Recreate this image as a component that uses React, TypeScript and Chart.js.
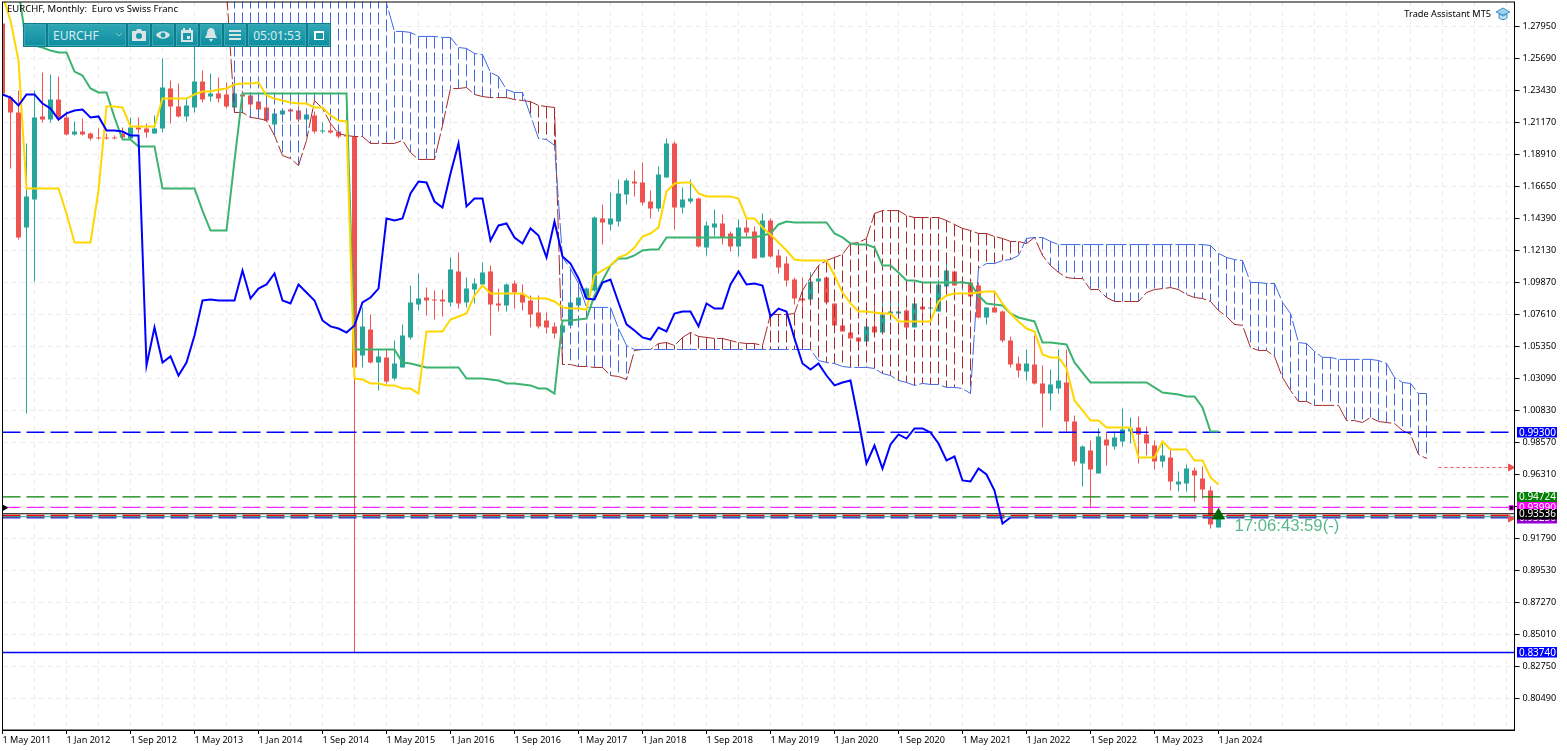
import React, { useEffect, useRef } from "react";
import { Chart, registerables } from "chart.js";

Chart.register(...registerables);

const dateLabels = ["1 May 2011","1 Jan 2012","1 Sep 2012","1 May 2013","1 Jan 2014","1 Sep 2014","1 May 2015","1 Jan 2016","1 Sep 2016","1 May 2017","1 Jan 2018","1 Sep 2018","1 May 2019","1 Jan 2020","1 Sep 2020","1 May 2021","1 Jan 2022","1 Sep 2022","1 May 2023","1 Jan 2024"];
const priceTicks = [1.2795,1.2569,1.2343,1.2117,1.1891,1.1665,1.1439,1.1213,1.0987,1.0761,1.0535,1.0309,1.0083,0.9857,0.9631,0.9405,0.9179,0.8953,0.8727,0.8501,0.8275,0.8049];

const opens = [
1.2817,1.2293,1.2188,1.1376,1.1573,1.2160,1.2138,1.2279,1.2153,1.2032,
1.2053,1.2039,1.2011,1.2011,1.2011,1.2039,1.2004,1.2082,1.2075,1.2039,
1.2075,1.2357,1.2230,1.2160,1.2223,1.2406,1.2300,1.2322,1.2315,1.2223,
1.2315,1.2308,1.2265,1.2223,1.2103,1.2174,1.2209,1.2202,1.2138,1.2167,
1.2053,1.2060,1.2053,1.2025,1.2018,1.0472,1.0655,1.0422,1.0457,1.0309,
1.0387,1.0599,1.0832,1.0881,1.0867,1.0867,1.0846,1.1065,1.0846,1.0937,
1.0973,1.1065,1.0839,1.0825,1.0980,1.0902,1.0860,1.0775,1.0719,1.0677,
1.0634,1.0684,1.0825,1.0881,1.0930,1.1439,1.1397,1.1418,1.1609,1.1700,
1.1693,1.1559,1.1510,1.1729,1.1969,1.1517,1.1559,1.1580,1.1234,1.1376,
1.1404,1.1333,1.1241,1.1376,1.1347,1.1164,1.1425,1.1178,1.1121,1.1008,
1.0874,1.0867,1.0994,1.1022,1.0839,1.0684,1.0634,1.0599,1.0570,1.0677,
1.0634,1.0768,1.0768,1.0789,1.0669,1.0818,1.0803,1.0782,1.0959,1.1065,
1.0987,1.0987,1.0966,1.0740,1.0811,1.0782,1.0577,1.0415,1.0358,1.0408,
1.0274,1.0203,1.0238,1.0281,1.0005,0.9709,0.9800,0.9638,0.9878,0.9829,
0.9864,0.9935,0.9963,0.9914,0.9836,0.9723,0.9751,0.9561,0.9568,0.9659,
0.9603,0.9518,0.9257];
const highs = [
1.2837,1.2308,1.2343,1.1969,1.2343,1.2470,1.2456,1.2442,1.2195,1.2124,
1.2145,1.2046,1.2075,1.2039,1.2025,1.2082,1.2153,1.2153,1.2110,1.2167,
1.2569,1.2413,1.2392,1.2293,1.2802,1.2484,1.2463,1.2435,1.2399,1.2420,
1.2343,1.2329,1.2293,1.2251,1.2202,1.2216,1.2216,1.2237,1.2202,1.2195,
1.2117,1.2110,1.2060,1.2032,1.2025,1.0811,1.0761,1.0514,1.0514,1.0577,
1.0691,1.0966,1.1051,1.0951,1.0930,1.0937,1.1163,1.1199,1.1022,1.1015,
1.1128,1.1107,1.0944,1.0980,1.1001,1.0973,1.0895,1.0895,1.0775,1.0705,
1.0719,1.1001,1.0951,1.0951,1.1453,1.1538,1.1623,1.1714,1.1721,1.1778,
1.1834,1.1637,1.1806,1.2004,1.1983,1.1658,1.1714,1.1587,1.1418,1.1502,
1.1467,1.1347,1.1432,1.1432,1.1383,1.1474,1.1439,1.1220,1.1171,1.1022,
1.1022,1.1058,1.1058,1.1022,1.0839,1.0719,1.0669,1.0599,1.0677,1.0832,
1.0881,1.0853,1.0860,1.0803,1.0839,1.0818,1.0818,1.1008,1.1142,1.1072,
1.1015,1.0987,1.0987,1.0811,1.0930,1.0789,1.0606,1.0465,1.0514,1.0613,
1.0401,1.0373,1.0514,1.0514,1.0048,0.9836,0.9871,0.9956,0.9928,0.9935,
1.0097,1.0034,1.0041,0.9970,0.9871,0.9850,0.9808,0.9652,0.9702,0.9681,
0.9688,0.9546,0.9377];
const lows = [
1.2308,1.1792,1.1290,1.0062,1.0994,1.2117,1.2117,1.2131,1.2025,1.2025,
1.2025,1.1990,1.1997,1.1997,1.1997,1.2004,1.1997,1.2039,1.2011,1.2039,
1.2046,1.2110,1.2153,1.2124,1.2188,1.2258,1.2265,1.2258,1.2216,1.2216,
1.2181,1.2181,1.2174,1.2124,1.2096,1.2117,1.2131,1.2117,1.2103,1.2039,
1.2039,1.2039,1.2004,1.2011,0.8374,1.0387,1.0415,1.0224,1.0274,1.0295,
1.0387,1.0584,1.0789,1.0754,1.0726,1.0747,1.0818,1.0803,1.0811,1.0839,
1.0966,1.0613,1.0782,1.0782,1.0803,1.0789,1.0669,1.0662,1.0627,1.0592,
1.0577,1.0669,1.0811,1.0881,1.0923,1.1255,1.1354,1.1383,1.1538,1.1595,
1.1531,1.1439,1.1488,1.1729,1.1361,1.1474,1.1545,1.1234,1.1178,1.1312,
1.1255,1.1206,1.1171,1.1312,1.1157,1.1164,1.1164,1.1051,1.0959,1.0832,
1.0818,1.0846,1.0937,1.0846,1.0684,1.0641,1.0592,1.0570,1.0570,1.0634,
1.0634,1.0719,1.0768,1.0662,1.0669,1.0733,1.0733,1.0782,1.0951,1.0966,
1.0930,1.0867,1.0733,1.0691,1.0775,1.0563,1.0387,1.0316,1.0295,1.0267,
0.9963,1.0083,1.0203,0.9935,0.9695,0.9546,0.9398,0.9638,0.9695,0.9808,
0.9829,0.9850,0.9709,0.9765,0.9666,0.9681,0.9518,0.9511,0.9511,0.9440,
0.9462,0.9250,0.9257];
const closes = [
1.2322,1.2188,1.1305,1.1595,1.2153,1.2138,1.2279,1.2145,1.2032,1.2053,
1.2032,1.2004,1.2004,1.2004,1.2004,1.2011,1.2082,1.2068,1.2046,1.2075,
1.2364,1.2230,1.2160,1.2237,1.2406,1.2279,1.2322,1.2286,1.2230,1.2322,
1.2300,1.2244,1.2209,1.2131,1.2181,1.2202,1.2195,1.2138,1.2174,1.2053,
1.2060,1.2046,1.2018,1.2018,1.0387,1.0677,1.0422,1.0465,1.0288,1.0415,
1.0613,1.0846,1.0874,1.0860,1.0860,1.0853,1.1079,1.0839,1.0944,1.0980,
1.1058,1.0832,1.0825,1.0973,1.0916,1.0846,1.0761,1.0677,1.0669,1.0627,
1.0684,1.0846,1.0881,1.0944,1.1446,1.1411,1.1439,1.1616,1.1707,1.1686,
1.1552,1.1510,1.1750,1.1969,1.1517,1.1573,1.1580,1.1241,1.1390,1.1404,
1.1305,1.1241,1.1376,1.1340,1.1157,1.1425,1.1171,1.1093,1.1001,1.0874,
1.0860,1.0994,1.1015,1.0846,1.0684,1.0641,1.0592,1.0570,1.0677,1.0634,
1.0761,1.0782,1.0782,1.0669,1.0839,1.0796,1.0811,1.0973,1.1072,1.0966,
1.0994,1.0888,1.0740,1.0811,1.0775,1.0577,1.0408,1.0365,1.0415,1.0274,
1.0203,1.0267,1.0295,1.0005,0.9723,0.9829,0.9666,0.9900,0.9836,0.9893,
0.9949,0.9956,0.9914,0.9850,0.9723,0.9765,0.9582,0.9582,0.9673,0.9624,
0.9525,0.9278,0.9335];

const tenkan = [
1.3014,1.2837,1.2555,1.1651,1.1651,1.1651,1.1651,1.1651,1.1474,1.1269,
1.1269,1.1269,1.1637,1.2230,1.2230,1.2223,1.2089,1.2089,1.2089,1.2089,
1.2286,1.2286,1.2286,1.2286,1.2315,1.2336,1.2336,1.2350,1.2357,1.2386,
1.2392,1.2392,1.2399,1.2308,1.2286,1.2272,1.2258,1.2251,1.2251,1.2223,
1.2223,1.2167,1.2131,1.2124,1.0309,1.0302,1.0274,1.0274,1.0260,1.0260,
1.0238,1.0238,1.0203,1.0641,1.0641,1.0641,1.0726,1.0747,1.0768,1.0895,
1.0966,1.0909,1.0909,1.0909,1.0909,1.0909,1.0874,1.0874,1.0874,1.0853,
1.0811,1.0803,1.0803,1.0796,1.1037,1.1072,1.1107,1.1163,1.1185,1.1234,
1.1312,1.1333,1.1376,1.1630,1.1686,1.1693,1.1693,1.1616,1.1595,1.1595,
1.1595,1.1595,1.1580,1.1439,1.1439,1.1376,1.1326,1.1269,1.1213,1.1149,
1.1142,1.1142,1.1142,1.1142,1.1037,1.0916,1.0839,1.0782,1.0782,1.0775,
1.0768,1.0768,1.0712,1.0712,1.0712,1.0712,1.0712,1.0853,1.0895,1.0909,
1.0909,1.0909,1.0916,1.0923,1.0923,1.0839,1.0768,1.0712,1.0662,1.0641,
1.0479,1.0458,1.0458,1.0380,1.0154,1.0083,1.0012,1.0012,0.9963,0.9963,
0.9963,0.9963,0.9751,0.9751,0.9751,0.9864,0.9808,0.9808,0.9808,0.9730,
0.9730,0.9610,0.9561];
const kijun = [
null,null,1.3050,1.2668,1.2661,1.2647,1.2625,1.2612,1.2612,1.2477,
1.2449,1.2357,1.2329,1.2329,1.2153,1.1997,1.1997,1.1948,1.1948,1.1948,
1.1651,1.1651,1.1651,1.1651,1.1651,1.1495,1.1354,1.1354,1.1354,1.1848,
1.2322,1.2322,1.2322,1.2322,1.2322,1.2322,1.2322,1.2322,1.2322,1.2322,
1.2322,1.2322,1.2322,1.2322,1.0514,1.0514,1.0514,1.0514,1.0514,1.0514,
1.0422,1.0415,1.0401,1.0387,1.0387,1.0387,1.0387,1.0387,1.0309,1.0309,
1.0309,1.0302,1.0295,1.0274,1.0274,1.0267,1.0260,1.0238,1.0238,1.0203,
1.0719,1.0719,1.0726,1.0733,1.0895,1.1001,1.1107,1.1157,1.1157,1.1178,
1.1213,1.1220,1.1220,1.1305,1.1305,1.1305,1.1305,1.1305,1.1305,1.1305,
1.1305,1.1305,1.1305,1.1305,1.1305,1.1319,1.1333,1.1397,1.1418,1.1411,
1.1411,1.1411,1.1411,1.1411,1.1333,1.1305,1.1262,1.1255,1.1255,1.1234,
1.1107,1.1107,1.1058,1.1001,1.1001,1.0987,1.0987,1.0987,1.0987,1.0987,
1.0987,1.0980,1.0895,1.0839,1.0832,1.0825,1.0768,1.0740,1.0726,1.0712,
1.0563,1.0563,1.0556,1.0549,1.0422,1.0351,1.0281,1.0281,1.0281,1.0281,
1.0281,1.0281,1.0281,1.0281,1.0246,1.0210,1.0203,1.0196,1.0182,1.0182,
1.0104,0.9935,0.9935];
const chikou = [
1.2315,1.2293,1.2237,1.2315,1.2315,1.2251,1.2216,1.2138,1.2181,1.2202,
1.2209,1.2153,1.2160,1.2060,1.2060,1.2053,1.2025,1.2025,1.0401,1.0669,
1.0422,1.0465,1.0330,1.0422,1.0613,1.0860,1.0867,1.0860,1.0860,1.0860,
1.1072,1.0874,1.0944,1.0973,1.1051,1.0860,1.0839,1.0973,1.0916,1.0860,
1.0719,1.0677,1.0662,1.0634,1.0684,1.0846,1.0881,1.0944,1.1439,1.1425,
1.1439,1.1616,1.1700,1.1693,1.1559,1.1517,1.1757,1.1969,1.1524,1.1580,
1.1580,1.1283,1.1390,1.1404,1.1305,1.1262,1.1369,1.1319,1.1164,1.1418,
1.1171,1.1121,1.1015,1.0874,1.0867,1.0987,1.1008,1.0846,1.0691,1.0648,
1.0599,1.0584,1.0669,1.0641,1.0768,1.0782,1.0782,1.0677,1.0839,1.0803,
1.0803,1.0973,1.1065,1.0973,1.0980,1.0966,1.0747,1.0803,1.0782,1.0592,
1.0415,1.0373,1.0415,1.0330,1.0260,1.0281,1.0295,1.0012,0.9709,0.9836,
0.9673,0.9843,0.9914,0.9885,0.9956,0.9956,0.9928,0.9850,0.9730,0.9758,
0.9589,0.9582,0.9673,0.9631,0.9518,0.9285,0.9327];

const cloudStart = 28;
const senkouA = [
1.3120,1.3120,1.3120,1.3120,1.3120,1.3120,1.3120,1.3120,1.3120,1.3120,
1.3120,1.3120,1.3120,1.3120,1.3120,1.3120,1.3120,1.3120,1.3120,1.3120,
1.2958,1.2760,1.2760,1.2753,1.2725,1.2725,1.2725,1.2718,1.2718,1.2647,
1.2640,1.2604,1.2597,1.2470,1.2442,1.2350,1.2329,1.2329,1.2167,1.2004,
1.1997,1.1955,1.1164,1.1086,1.0980,1.0811,1.0811,1.0811,1.0811,1.0662,
1.0542,1.0514,1.0514,1.0514,1.0514,1.0514,1.0514,1.0514,1.0514,1.0514,
1.0514,1.0514,1.0514,1.0514,1.0514,1.0514,1.0514,1.0514,1.0514,1.0514,
1.0514,1.0514,1.0514,1.0514,1.0436,1.0422,1.0415,1.0394,1.0387,1.0387,
1.0387,1.0380,1.0344,1.0330,1.0295,1.0281,1.0260,1.0274,1.0267,1.0267,
1.0246,1.0246,1.0238,1.0203,1.1086,1.1121,1.1121,1.1142,1.1149,1.1178,
1.1298,1.1305,1.1305,1.1277,1.1255,1.1255,1.1255,1.1255,1.1255,1.1255,
1.1255,1.1255,1.1255,1.1255,1.1255,1.1255,1.1255,1.1255,1.1255,1.1255,
1.1255,1.1255,1.1255,1.1248,1.1192,1.1164,1.1149,1.1142,1.0987,1.0987,
1.0980,1.0980,1.0846,1.0768,1.0563,1.0556,1.0500,1.0458,1.0458,1.0444,
1.0444,1.0444,1.0444,1.0444,1.0436,1.0415,1.0316,1.0281,1.0274,1.0203,1.0203];
const senkouB = [
1.3050,1.2188,1.2188,1.2153,1.2145,1.2131,1.2025,1.1884,1.1863,1.1813,
1.1990,1.2272,1.2216,1.2110,1.2039,1.2025,1.2018,1.2018,1.1969,1.1969,
1.1969,1.1969,1.1990,1.1905,1.1856,1.1856,1.1856,1.2096,1.2357,1.2357,
1.2364,1.2315,1.2300,1.2293,1.2293,1.2293,1.2279,1.2272,1.2265,1.2237,
1.2230,1.2223,1.0408,1.0408,1.0394,1.0394,1.0387,1.0387,1.0330,1.0323,
1.0302,1.0507,1.0514,1.0514,1.0556,1.0563,1.0542,1.0599,1.0634,1.0606,
1.0599,1.0592,1.0592,1.0577,1.0563,1.0556,1.0556,1.0542,1.0761,1.0761,
1.0761,1.0768,1.0930,1.1022,1.1107,1.1142,1.1164,1.1185,1.1262,1.1269,
1.1298,1.1474,1.1495,1.1495,1.1495,1.1460,1.1446,1.1446,1.1446,1.1446,
1.1425,1.1397,1.1369,1.1354,1.1333,1.1333,1.1312,1.1298,1.1277,1.1277,
1.1262,1.1305,1.1178,1.1107,1.1058,1.1022,1.1015,1.1015,1.0937,1.0937,
1.0881,1.0853,1.0853,1.0853,1.0853,1.0916,1.0937,1.0944,1.0951,1.0937,
1.0902,1.0881,1.0874,1.0853,1.0789,1.0747,1.0691,1.0684,1.0528,1.0507,
1.0507,1.0465,1.0316,1.0224,1.0147,1.0147,1.0119,1.0119,1.0119,1.0119,
1.0012,1.0012,0.9998,1.0034,1.0005,0.9998,0.9991,0.9942,0.9914,0.9772,0.9744];

const levelBlueDash = 0.993;
const levelGreen = 0.94724;
const levelMagenta = 0.9399;
const levelBlack = 0.93536;
const levelRed = 0.934;
const levelTeal = 0.9333;
const levelPurple = 0.9325;
const levelBlueSolid = 0.8374;
const forecastLevel = 0.9681;
const countdownAnchor = 0.9343;

const RED = "#EF5350";
const TEAL = "#26A69A";
const FONT = "'Noto Sans'";
const LAST = 189;

const pts = (vals: (number | null)[], start = 0) => vals.map((y, i) => ({ x: i + start, y }));
const level = (v: number) => [{ x: 0, y: v }, { x: LAST, y: v }];

function hatch(blue: boolean) {
  const out: any[] = [];
  senkouA.forEach((a, k) => {
    const b = senkouB[k];
    if ((a >= b) === blue) {
      const x = k + cloudStart;
      out.push({ x, y: Math.max(a, b) }, { x, y: Math.min(a, b) }, { x, y: null });
    }
  });
  return out;
}

const lineBase = { type: "line", pointRadius: 0, tension: 0, fill: false };

function box(ctx: any, y: any, value: number, text: string, color: string, h = 10.5) {
  const py = y.getPixelForValue(value);
  ctx.fillStyle = color;
  ctx.fillRect(1517, Math.round(py - h / 2), 40, h);
  ctx.fillStyle = "#fff";
  ctx.font = `10px ${FONT}`;
  ctx.textAlign = "left";
  ctx.textBaseline = "middle";
  ctx.fillText(text, 1519, py + 0.5);
}

const overlay = {
  id: "overlay",
  afterDraw(chart: any) {
    const { ctx, chartArea: a, scales } = chart;
    const y = scales.y;
    ctx.save();
    ctx.strokeStyle = "#000";
    ctx.lineWidth = 1;
    ctx.strokeRect(a.left, a.top, a.right - a.left, a.bottom - a.top);
    box(ctx, y, levelBlueDash, "0.99300", "#0000FF");
    box(ctx, y, levelPurple, "0.93250", "#9400D3");
    box(ctx, y, levelGreen, "0.94724", "#008000");
    box(ctx, y, levelMagenta, "0.93990", "#FF00FF");
    box(ctx, y, levelBlack, "0.93536", "#000000");
    box(ctx, y, levelBlueSolid, "0.83740", "#0000FF");
    ctx.fillStyle = "#000";
    ctx.font = `9.5px ${FONT}`;
    ctx.textAlign = "left";
    ctx.textBaseline = "middle";
    ctx.fillText("EURCHF, Monthly:  Euro vs Swiss Franc", 7, 9.5);
    ctx.textAlign = "right";
    ctx.font = `9.2px ${FONT}`;
    ctx.fillText("Trade Assistant MT5", 1491, 14);
    ctx.font = "16.7px 'Liberation Sans'";
    ctx.textAlign = "left";
    ctx.fillStyle = "#58B88C";
    ctx.fillText("17:06:43:59(-)", scales.x.getPixelForValue(154), y.getPixelForValue(countdownAnchor) + 11);
    ctx.restore();
  },
};

function Btn({ w, children }: { w: number; children?: React.ReactNode }) {
  return (
    <div
      style={{
        width: w,
        height: 22,
        boxSizing: "border-box",
        border: "1px solid #3fa7b4",
        marginRight: 2,
        background: "linear-gradient(#2ea6b4,#0f8fa1)",
        display: "flex",
        alignItems: "center",
        justifyContent: "center",
        color: "#d8eef0",
        fontFamily: "'Noto Sans'",
        fontSize: 12,
        flex: "none",
      }}
    >
      {children}
    </div>
  );
}

const ic = { width: 16, height: 16, viewBox: "0 0 16 16", fill: "#d9e4e6" };

export default function App() {
  const ref = useRef<HTMLCanvasElement | null>(null);
  useEffect(() => {
    if (!ref.current) return;
    const upColor = (i: number) => (closes[i] >= opens[i] ? TEAL : RED);
    const chart = new Chart(ref.current, {
      type: "line",
      data: {
        datasets: [
          { type: "bar", data: lows.map((l, i) => ({ x: i, y: [l, highs[i]] })), backgroundColor: lows.map((_, i) => upColor(i)), barThickness: 1, grouped: false, order: 20, inflateAmount: 0, borderWidth: 0 },
          { type: "bar", data: opens.map((o, i) => ({ x: i, y: [o, closes[i]] })), backgroundColor: opens.map((_, i) => upColor(i)), barThickness: 5, grouped: false, order: 19, minBarLength: 1, inflateAmount: 0, borderWidth: 0 },
          { ...lineBase, data: hatch(true), borderColor: "#4169E1", borderWidth: 1, borderDash: [12, 4], spanGaps: false, order: 18 },
          { ...lineBase, data: hatch(false), borderColor: "#A52A2A", borderWidth: 1, borderDash: [12, 4], spanGaps: false, order: 18 },
          { ...lineBase, data: pts(senkouA, cloudStart), borderColor: "#4169E1", borderWidth: 1, borderDash: [20, 3], order: 17 },
          { ...lineBase, data: pts(senkouB, cloudStart), borderColor: "#A52A2A", borderWidth: 1, borderDash: [20, 3], order: 17 },
          { ...lineBase, data: level(levelBlueDash), borderColor: "#0000FF", borderWidth: 1.5, borderDash: [18, 6], order: 16 },
          { ...lineBase, data: level(levelGreen), borderColor: "#008000", borderWidth: 1.3, borderDash: [18, 6], order: 16 },
          { ...lineBase, data: level(levelMagenta), borderColor: "#FF00FF", borderWidth: 1, borderDash: [18, 6], order: 16 },
          { ...lineBase, data: level(levelPurple), borderColor: "#4B2FC9", borderWidth: 1.5, borderDash: [18, 6], order: 16 },
          { ...lineBase, data: level(levelRed), borderColor: "#FF0000", borderWidth: 2, borderDash: [18, 6], order: 15 },
          { ...lineBase, data: level(levelTeal), borderColor: TEAL, borderWidth: 1, order: 14 },
          { ...lineBase, data: level(levelBlack), borderColor: "#000000", borderWidth: 1.2, order: 14 },
          { ...lineBase, data: level(levelBlueSolid), borderColor: "#0000FF", borderWidth: 1.3, order: 14 },
          { ...lineBase, data: pts(kijun), borderColor: "#3CB371", borderWidth: 2, order: 5, spanGaps: false },
          { ...lineBase, data: pts(tenkan), borderColor: "#FFD700", borderWidth: 2, order: 4 },
          { ...lineBase, data: pts(chikou), borderColor: "#0000FF", borderWidth: 2, order: 3 },
          { ...lineBase, data: [{ x: 179.5, y: forecastLevel }, { x: 188.5, y: forecastLevel }], borderColor: RED, borderWidth: 1, borderDash: [3, 3], pointRadius: [0, 4], pointStyle: "triangle", rotation: 90, pointBackgroundColor: RED, pointBorderColor: RED, order: 2 },
          { ...lineBase, data: [{ x: 188.5, y: 0.932 }], showLine: false, pointRadius: 4, pointStyle: "triangle", rotation: 90, pointBackgroundColor: RED, pointBorderColor: RED, order: 2 },
          { ...lineBase, data: [{ x: 188.6, y: levelMagenta - 0.0003 }], showLine: false, pointRadius: 3, pointStyle: "rect", pointBackgroundColor: "#000", pointBorderColor: "#FF00FF", pointBorderWidth: 1, order: 2 },
          { ...lineBase, data: [{ x: 0.25, y: levelMagenta - 0.0003 }], showLine: false, pointRadius: 3, pointStyle: "triangle", rotation: 90, pointBackgroundColor: "#000", pointBorderColor: "#000", order: 2 },
          { ...lineBase, data: [{ x: 152, y: 0.9342 }], showLine: false, pointRadius: 7, pointStyle: "triangle", pointBackgroundColor: "#006400", pointBorderColor: "#006400", order: 1 },
        ] as any,
      },
      options: {
        animation: false,
        responsive: false,
        devicePixelRatio: 1,
        layout: { autoPadding: false, padding: { left: 2.5, top: 2, right: 0, bottom: 0 } },
        plugins: { legend: { display: false }, tooltip: { enabled: false } },
        events: [],
        scales: {
          x: {
            type: "linear",
            offset: false,
            min: 0,
            max: LAST,
            afterBuildTicks: (s: any) => {
              const t = [];
              for (let i = 0; i <= LAST; i += 4) t.push({ value: i });
              s.ticks = t;
            },
            afterFit: (s: any) => { s.height = 21; s.paddingLeft = 0; s.paddingRight = 0; },
            border: { color: "#000", width: 1, dash: [5, 4] },
            grid: {
              offset: false,
              color: "#EBEBEB",
              lineWidth: 1,
              tickLength: 4,
              tickColor: (c: any) => (c.tick && c.tick.value % 8 === 0 && c.tick.value <= 152 ? "#000" : "rgba(0,0,0,0)"),
            },
            ticks: {
              autoSkip: false,
              maxRotation: 0,
              align: "start",
              padding: 1,
              color: "#000",
              font: { family: "'Noto Sans'", size: 9.1 },
              callback: (v: any) => (v % 8 === 0 && v <= 152 ? dateLabels[v / 8] : ""),
            },
          },
          y: {
            type: "linear",
            position: "right",
            min: 0.78265,
            max: 1.2968,
            afterBuildTicks: (s: any) => { s.ticks = priceTicks.map((value) => ({ value })); },
            afterFit: (s: any) => { s.width = 52.5; s.paddingTop = 0; s.paddingBottom = 0; },
            border: { color: "#000", width: 1, dash: [5, 4] },
            grid: { color: "#EBEBEB", lineWidth: 1, tickLength: 5, tickColor: "#000" },
            ticks: {
              autoSkip: false,
              padding: 3,
              color: "#000",
              font: { family: "'Noto Sans'", size: 9.1 },
              callback: (v: any) => Number(v).toFixed(5),
            },
          },
        },
      } as any,
      plugins: [overlay],
    } as any);
    return () => chart.destroy();
  }, []);

  return (
    <div style={{ position: "fixed", left: 0, top: 0, width: 1567, height: 751, background: "#fff", overflow: "hidden" }}>
      <canvas ref={ref} width={1567} height={751} style={{ display: "block", width: 1567, height: 751 }} />
      <div style={{ position: "absolute", left: 23, top: 23, width: 308, height: 24, display: "flex", background: "#0b7c8c", padding: 1, boxSizing: "border-box" }}>
        <Btn w={22} />
        <Btn w={78}>
          <span style={{ width: 62, textAlign: "left", paddingLeft: 2 }}>EURCHF</span>
          <svg width="8" height="6" viewBox="0 0 8 6"><path d="M1 1 L4 4 L7 1" stroke="#7fc4cc" fill="none" /></svg>
        </Btn>
        <Btn w={22}><svg {...ic}><path d="M1 4h4l1-2h4l1 2h4v10H1z" /><circle cx="8" cy="9" r="3" fill="#1a98a8" /></svg></Btn>
        <Btn w={22}><svg {...ic}><path d="M1 8c3-5 11-5 14 0c-3 5-11 5-14 0z" /><circle cx="8" cy="8" r="2.5" fill="#1a98a8" /></svg></Btn>
        <Btn w={22}><svg {...ic}><path d="M2 3h12v12H2z" /><path d="M4 6h8v7H4z" fill="#1a98a8" /><path d="M8 9h3v3H8zM4 1h2v3H4zM10 1h2v3h-2z" /></svg></Btn>
        <Btn w={22}><svg {...ic}><path d="M8 1c3 0 4 3 4 6l2 4H2l2-4c0-3 1-6 4-6zM6 12h4l-2 3z" /></svg></Btn>
        <Btn w={22}><svg {...ic}><path d="M2 3h12v2H2zM2 7h12v2H2zM2 11h12v2H2z" /></svg></Btn>
        <Btn w={58}>05:01:53</Btn>
        <Btn w={22}><svg {...ic} fill="#fff"><path d="M3 4h10v9H3z" /><path d="M5 6h7v6H5z" fill="#1a98a8" /></svg></Btn>
      </div>
      <svg style={{ position: "absolute", left: 1495, top: 7 }} width="16" height="14" viewBox="0 0 16 14">
        <path d="M8 1 L15 5 L8 8 L1 5 Z" fill="#9fd2ef" stroke="#3f8fc4" />
        <path d="M4 7v4c2 2 6 2 8 0V7L8 9z" fill="#bfe2f5" stroke="#3f8fc4" />
      </svg>
    </div>
  );
}
